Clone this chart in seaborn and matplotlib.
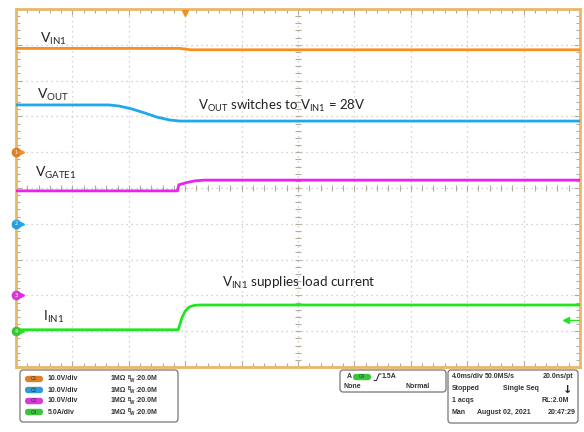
import numpy as np
import pandas as pd
import matplotlib
matplotlib.use('Agg')
import matplotlib.pyplot as plt
import seaborn as sns
from matplotlib.patches import FancyBboxPatch
from matplotlib.ticker import MultipleLocator

# scope captures, time in ms from trigger
vin_t = [-12, -0.4, 0.4, 28]
vin_v = [29.0, 29.0, 28.6, 28.6]

vout_t = [-12, -5.4, -4.7, -3.8, -2.9, -2.0, -1.1, -0.4, 28]
vout_v = [33.2, 33.2, 32.9, 32.1, 31.0, 29.8, 29.0, 28.7, 28.7]

vgate_t = [-12, -0.55, -0.45, 0.2, 0.7, 1.4, 28]
vgate_v = [29.2, 29.2, 30.9, 31.6, 32.0, 32.2, 32.2]

iin_t = [-12, -0.5, -0.21, 0.0, 0.28, 0.64, 1.0, 28]
iin_a = [0.2, 0.2, 1.98, 2.8, 3.38, 3.6, 3.66, 3.66]

channels = ['C1', 'C2', 'C3', 'C4']
scales = [10.0, 10.0, 10.0, 5.0]      # units per div
offsets = [1.0, -1.0, -3.0, -4.0]     # ground level, div
colors = ['#F5901E', '#1FA8EA', '#F01EF0', '#22E522']
pill_colors = ['#D9822B', '#2E9AD6', '#D63BD6', '#3CC43C']
scale_labels = ['10.0V/div', '10.0V/div', '10.0V/div', '5.0A/div']

sns.set_style('white')
plt.rcParams['font.family'] = ['Lato', 'DejaVu Sans']
plt.rcParams['mathtext.fontset'] = 'custom'
plt.rcParams['mathtext.rm'] = 'Lato'
plt.rcParams['mathtext.it'] = 'Lato:italic'
plt.rcParams['mathtext.bf'] = 'Lato:bold'

rows = []
for ch, t, v, s, off in zip(channels, [vin_t, vout_t, vgate_t, iin_t],
                            [vin_v, vout_v, vgate_v, iin_a], scales, offsets):
    for ti, vi in zip(t, v):
        rows.append({'t': ti, 'div': off + vi / s, 'ch': ch})
df = pd.DataFrame(rows)

W, H = 584, 432
fig = plt.figure(figsize=(W / 100, H / 100), dpi=100)
left, top, right, bottom = 16, 9, 580, 367
ax = fig.add_axes([left / W, 1 - bottom / H, (right - left) / W, (bottom - top) / H])

sns.lineplot(data=df, x='t', y='div', hue='ch', palette=colors, estimator=None,
             sort=False, linewidth=2, legend=False, ax=ax, zorder=5)

ax.set_xlim(-12, 28)
ax.set_ylim(-5, 5)
ax.set_xticks(np.arange(-12, 28.1, 4))
ax.set_yticks(np.arange(-5, 5.1, 1))
ax.xaxis.set_minor_locator(MultipleLocator(0.8))
ax.yaxis.set_minor_locator(MultipleLocator(0.2))
ax.tick_params(which='both', direction='in', top=True, right=True, bottom=True, left=True,
               labelbottom=False, labelleft=False, color='#b5ab98', width=0.8)
ax.tick_params(which='major', length=4)
ax.tick_params(which='minor', length=3)
ax.grid(True, which='major', color='#c4c4c4', linestyle=(0, (1, 3)), linewidth=0.9)
ax.set_xlabel('')
ax.set_ylabel('')
for sp in ax.spines.values():
    sp.set_color('#E8B86A')
    sp.set_linewidth(2)

# centre graticule ticks
xc = 8
ax.vlines(np.arange(-12, 28.01, 0.8), -0.08, 0.08, color='#b5ab98', lw=0.8)
ax.hlines(np.arange(-5, 5.01, 0.2), xc - 0.2, xc + 0.2, color='#b5ab98', lw=0.8)

# channel ground markers and trigger markers
for i, (off, c) in enumerate(zip(offsets, pill_colors)):
    ax.plot([-12], [off], marker='o', ms=6, color=c, clip_on=False, zorder=8)
    ax.plot([-11.55], [off], marker='>', ms=3, color=colors[i], clip_on=False, zorder=8)
    ax.plot([-11.9, -11.5], [off, off], color=colors[i], lw=0.8, clip_on=False, zorder=8)
    ax.text(-12, off, str(i + 1), fontsize=3.5, color='white', ha='center', va='center',
            zorder=9, family='DejaVu Sans')
ax.plot([0], [4.88], marker='v', ms=5, color='#F5901E', clip_on=False, zorder=8)
trig_div = offsets[3] + 1.5 / scales[3]
ax.plot([27.0], [trig_div], marker='<', ms=4, color='#22E522', clip_on=False, zorder=8)
ax.plot([27.0, 27.9], [trig_div, trig_div], color='#22E522', lw=0.9, zorder=8)

# overlay in pixel coordinates for labels and info boxes
ov = fig.add_axes([0, 0, 1, 1], zorder=10)
ov.set_xlim(0, W)
ov.set_ylim(H, 0)
ov.axis('off')
ov.patch.set_visible(False)

fs = 10
ov.text(40, 43, r'V$_{\mathrm{IN1}}$', fontsize=fs, color='#222222', va='baseline')
ov.text(37, 99, r'V$_{\mathrm{OUT}}$', fontsize=fs, color='#222222', va='baseline')
ov.text(35, 177, r'V$_{\mathrm{GATE1}}$', fontsize=fs, color='#222222', va='baseline')
ov.text(43, 321, r'I$_{\mathrm{IN1}}$', fontsize=fs, color='#222222', va='baseline')
ov.text(198, 110, r'V$_{\mathrm{OUT}}$ switches to V$_{\mathrm{IN1}}$ = 28V', fontsize=9.5,
        color='#222222', va='baseline')
ov.text(222, 287, r'V$_{\mathrm{IN1}}$ supplies load current', fontsize=9.7,
        color='#222222', va='baseline')

pf = dict(fontsize=5, fontweight='bold', color='#333333', family='Liberation Sans', va='center')
sf = dict(fontsize=3.3, fontweight='bold', color='#333333', family='Liberation Sans', va='center')


def box(x0, y0, x1, y1):
    ov.add_patch(FancyBboxPatch((x0, y0), x1 - x0, y1 - y0, boxstyle='round,pad=0,rounding_size=3',
                                fc='white', ec='#666666', lw=0.8))


def pill(x, y, label, c):
    ov.add_patch(FancyBboxPatch((x, y - 3.2), 18, 6.4, boxstyle='round,pad=0,rounding_size=3.2',
                                fc=c, ec='none'))
    ov.text(x + 9, y, label, fontsize=3.5, color='#333333', ha='center', va='center',
            family='Liberation Sans')


box(20, 370, 178, 422)
for i, y in enumerate([379, 390, 401, 412]):
    pill(25, y, channels[i], pill_colors[i])
    ov.text(48, y, scale_labels[i], **pf)
    ov.text(111, y, '1M\u03a9', **pf)
    ov.text(127.5, y - 1.6, 'B', **sf)
    ov.text(130.5, y + 1.6, 'W', **sf)
    ov.text(135, y, ':20.0M', **pf)

box(340, 370, 446, 392)
ov.text(347, 377, 'A', **pf)
pill(353, 377, 'C4', pill_colors[3])
ov.plot([374, 376.5, 379, 381], [380.5, 380.5, 374, 374], color='#333333', lw=0.8)
ov.text(382, 377, '1.5A', **pf)
ov.text(344, 387, 'None', **pf)
ov.text(405, 387, 'Normal', **pf)

box(448, 370, 578, 423)
ov.text(452, 377, '4.0ms/div', **pf)
ov.text(485, 377, '50.0MS/s', **pf)
ov.text(543, 377, '20.0ns/pt', **pf)
ov.text(452, 389, 'Stopped', **pf)
ov.text(503, 389, 'Single Seq', **pf)
ov.text(568, 390, '\u2193', fontsize=8, fontweight='bold', color='#222222',
        ha='center', va='center', family='DejaVu Sans')
ov.text(452, 401, '1 acqs', **pf)
ov.text(542, 401, 'RL:2.0M', **pf)
ov.text(452, 413, 'Man', **pf)
ov.text(477, 413, 'August 02, 2021', **pf)
ov.text(548, 413, '20:47:29', **pf)

fig.savefig('out.png', dpi=100)
